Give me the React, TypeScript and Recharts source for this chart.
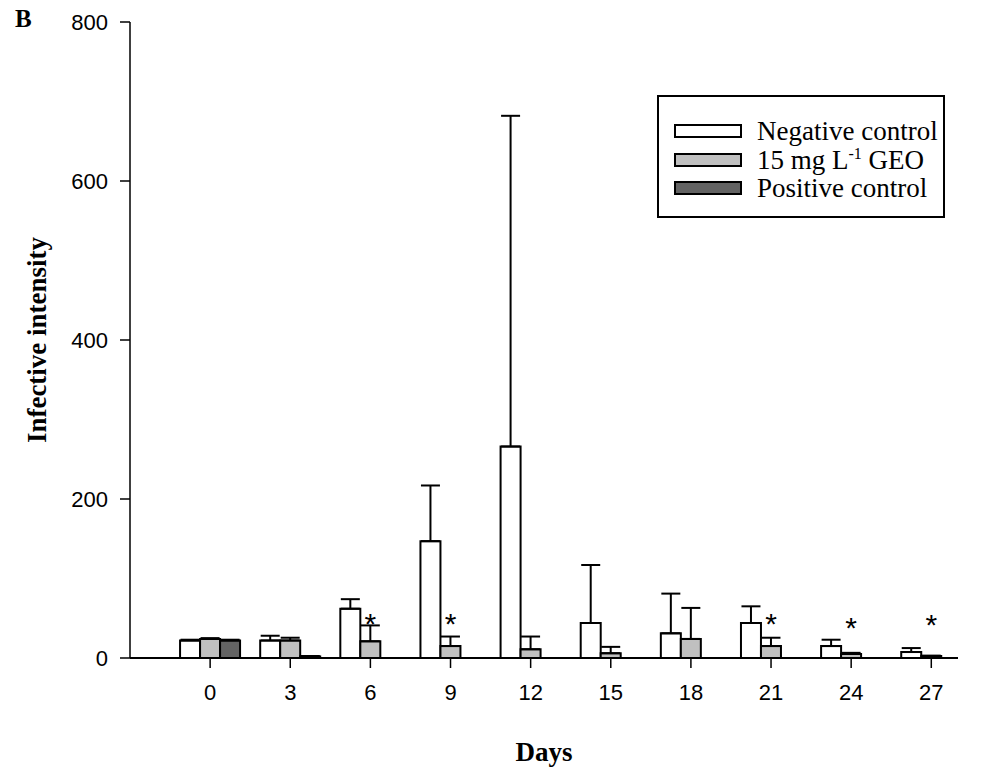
import {
  Bar,
  ComposedChart,
  ErrorBar,
  Legend,
  Scatter,
  XAxis,
  YAxis,
} from "recharts";

const days = [0, 3, 6, 9, 12, 15, 18, 21, 24, 27];
const negative = [22, 22, 62, 147, 266, 44, 31, 44, 15, 7.5];
const negativeErr = [1, 6, 12, 70, 416, 73, 50, 21, 8, 5];
const geo = [24, 22, 21, 15, 11, 6, 24, 15, 5, 2.5];
const geoErr = [1, 3.5, 20, 12, 16, 8, 39, 10.5, 1.5, 0.5];
const positive = [22, 2, 0, 0, 0, 0, 0, 0, 0, 0];
const positiveErr = [1, 0.5, 0, 0, 0, 0, 0, 0, 0, 0];
const starDays = [6, 9, 21, 24, 27];
const starLevel = [51, 51, 52, 47, 50];
const yTicks = [0, 200, 400, 600, 800];

const seriesNames = ["Negative control", "15 mg L-1 GEO", "Positive control"];
const seriesColors = ["#ffffff", "#c0c0c0", "#636363"];

const rows = days.map((day, i) => ({
  day,
  negative: negative[i],
  negativeErr: [0, negativeErr[i]],
  geo: geo[i],
  geoErr: [0, geoErr[i]],
  positive: positive[i],
  positiveErr: [0, positiveErr[i]],
}));

const stars = starDays.map((day, i) => ({ day, level: starLevel[i] }));

const ARIAL = "'Liberation Sans', Arial, sans-serif";
const TIMES = "'Liberation Serif', 'Times New Roman', serif";

function StarShape(props: any) {
  const { cx, cy } = props;
  return (
    <text x={cx} y={cy + 17} textAnchor="middle" fontFamily={ARIAL} fontSize={30} fill="#000">
      *
    </text>
  );
}

function LegendBox() {
  return (
    <div
      style={{
        width: 288,
        height: 123,
        border: "2px solid #000",
        background: "#fff",
        boxSizing: "border-box",
        paddingTop: 20,
        paddingLeft: 15,
      }}
    >
      {seriesNames.map((name, i) => (
        <div key={name} style={{ display: "flex", alignItems: "center", height: 28.5 }}>
          <div
            style={{
              width: 68,
              height: 14,
              border: "2px solid #000",
              boxSizing: "border-box",
              background: seriesColors[i],
              flexShrink: 0,
            }}
          />
          <span
            style={{
              marginLeft: 15,
              fontFamily: TIMES,
              fontSize: 27,
              lineHeight: "28px",
              color: "#000",
              whiteSpace: "nowrap",
            }}
          >
            {i === 1 ? (
              <>
                15 mg L<sup style={{ fontSize: 16, verticalAlign: 10, lineHeight: 0 }}>-1</sup> GEO
              </>
            ) : (
              name
            )}
          </span>
        </div>
      ))}
    </div>
  );
}

export default function App() {
  return (
    <div style={{ position: "absolute", left: 0, top: 0, width: 1005, height: 773, background: "#fff" }}>
      <div
        style={{
          position: "absolute",
          left: 15,
          top: 5,
          fontFamily: TIMES,
          fontWeight: "bold",
          fontSize: 25,
        }}
      >
        B
      </div>
      <ComposedChart
        width={1005}
        height={773}
        data={rows}
        margin={{ top: 22, right: 47, bottom: 0, left: 0 }}
        barGap={0}
      >
        <XAxis
          type="number"
          dataKey="day"
          domain={[-3, 28]}
          ticks={days}
          allowDataOverflow
          height={115}
          tickSize={10}
          tickMargin={16}
          axisLine={{ stroke: "#000", strokeWidth: 2 }}
          tickLine={{ stroke: "#000", strokeWidth: 1.5 }}
          tick={{ fill: "#000", fontFamily: ARIAL, fontSize: 22 }}
          label={(p: any) => {
            const vb = p.viewBox;
            return (
              <text
                x={vb.x + vb.width / 2}
                y={vb.y + 103}
                textAnchor="middle"
                fontFamily={TIMES}
                fontWeight="bold"
                fontSize={27}
                fill="#000"
              >
                Days
              </text>
            );
          }}
        />
        <YAxis
          type="number"
          domain={[0, 800]}
          ticks={yTicks}
          width={130}
          tickSize={10}
          tickMargin={12}
          axisLine={{ stroke: "#000", strokeWidth: 1.5 }}
          tickLine={{ stroke: "#000", strokeWidth: 1.5 }}
          tick={{ fill: "#000", fontFamily: ARIAL, fontSize: 22 }}
          label={(p: any) => {
            const vb = p.viewBox;
            const cx = vb.x + 37;
            const cy = vb.y + vb.height / 2;
            return (
              <text
                x={cx}
                y={cy}
                transform={`rotate(-90 ${cx} ${cy})`}
                textAnchor="middle"
                dominantBaseline="central"
                fontFamily={TIMES}
                fontWeight="bold"
                fontSize={27}
                fill="#000"
              >
                Infective intensity
              </text>
            );
          }}
        />
        <Legend
          layout="horizontal"
          verticalAlign="middle"
          align="center"
          wrapperStyle={{ position: "absolute", left: 657, top: 95, width: 288 }}
          content={() => <LegendBox />}
        />
        <Bar
          dataKey="negative"
          name={seriesNames[0]}
          fill={seriesColors[0]}
          stroke="#000"
          strokeWidth={2}
          barSize={20}
          isAnimationActive={false}
        >
          <ErrorBar dataKey="negativeErr" width={9.5} stroke="#000" strokeWidth={2} direction="y" />
        </Bar>
        <Bar
          dataKey="geo"
          name={seriesNames[1]}
          fill={seriesColors[1]}
          stroke="#000"
          strokeWidth={2}
          barSize={20}
          isAnimationActive={false}
        >
          <ErrorBar dataKey="geoErr" width={9.5} stroke="#000" strokeWidth={2} direction="y" />
        </Bar>
        <Bar
          dataKey="positive"
          name={seriesNames[2]}
          fill={seriesColors[2]}
          stroke="#000"
          strokeWidth={2}
          barSize={20}
          isAnimationActive={false}
        >
          <ErrorBar dataKey="positiveErr" width={9.5} stroke="#000" strokeWidth={2} direction="y" />
        </Bar>
        <Scatter
          data={stars}
          dataKey="level"
          shape={StarShape}
          legendType="none"
          isAnimationActive={false}
        />
      </ComposedChart>
    </div>
  );
}
